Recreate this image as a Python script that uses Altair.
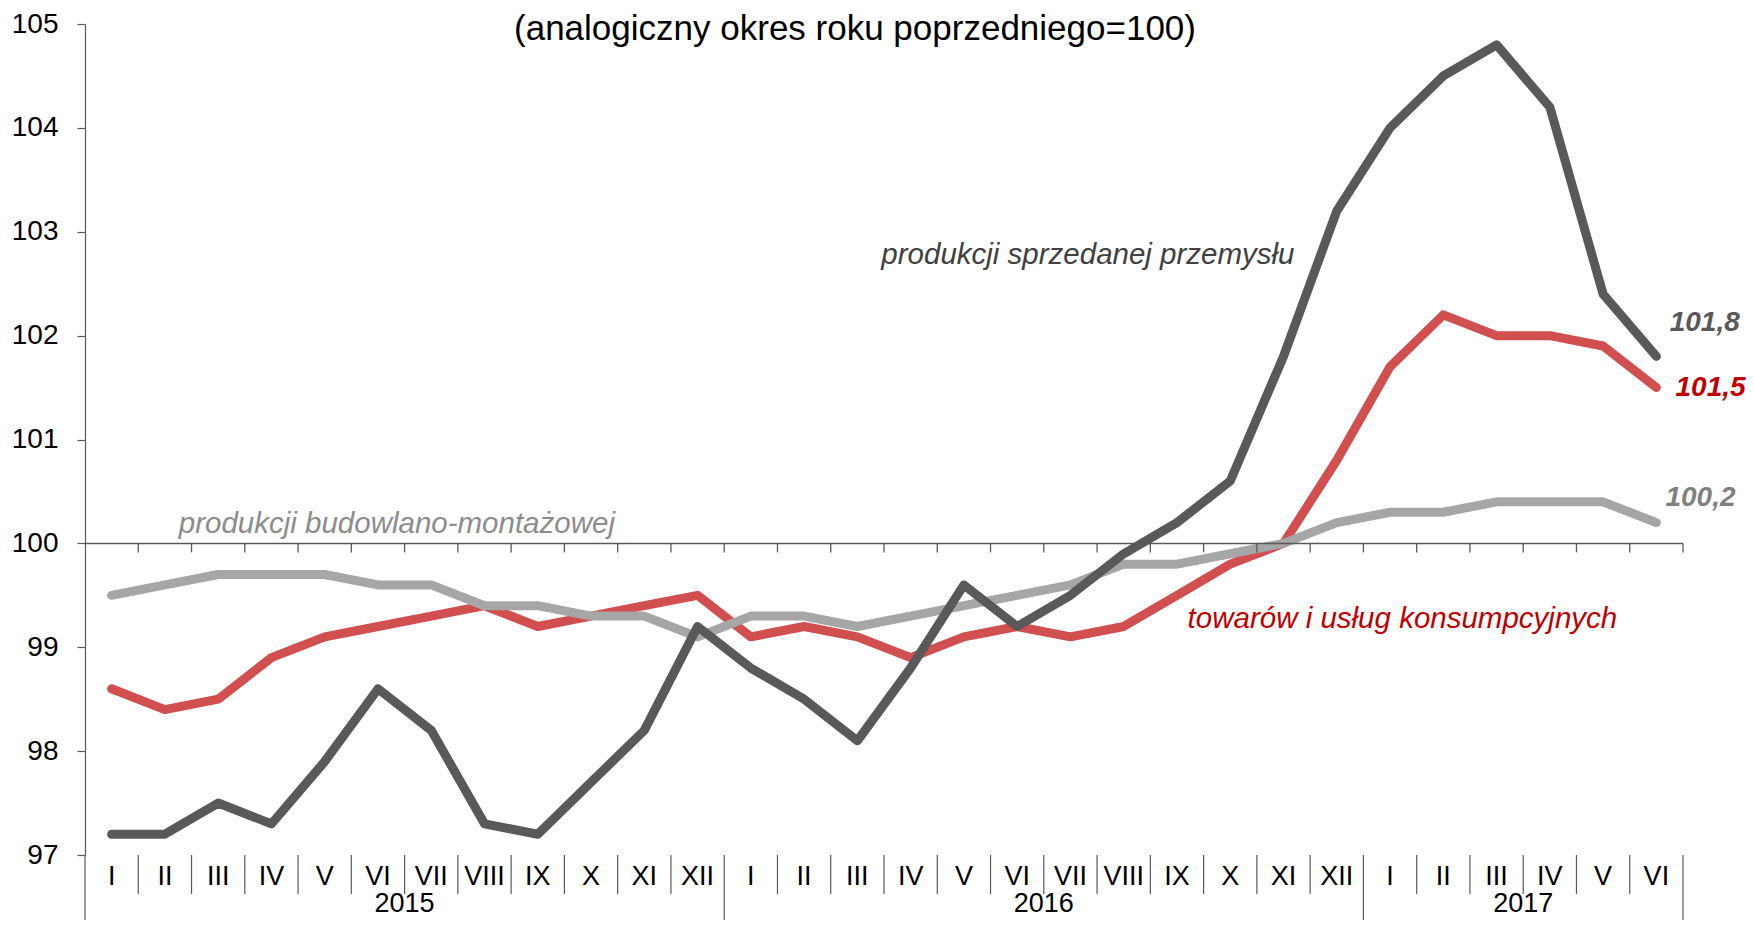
import altair as alt
import pandas as pd

# ---------------- data ----------------
months = ["I", "II", "III", "IV", "V", "VI", "VII", "VIII", "IX", "X", "XI", "XII",
          "I", "II", "III", "IV", "V", "VI", "VII", "VIII", "IX", "X", "XI", "XII",
          "I", "II", "III", "IV", "V", "VI"]
years = ["2015", "2016", "2017"]
months_per_year = [12, 12, 6]

industry = [97.2, 97.2, 97.5, 97.3, 97.9, 98.6, 98.2, 97.3, 97.2, 97.7, 98.2, 99.2,
            98.8, 98.5, 98.1, 98.8, 99.6, 99.2, 99.5, 99.9, 100.2, 100.6, 101.8, 103.2,
            104.0, 104.5, 104.8, 104.2, 102.4, 101.8]
consumer = [98.6, 98.4, 98.5, 98.9, 99.1, 99.2, 99.3, 99.4, 99.2, 99.3, 99.4, 99.5,
            99.1, 99.2, 99.1, 98.9, 99.1, 99.2, 99.1, 99.2, 99.5, 99.8, 100.0, 100.8,
            101.7, 102.2, 102.0, 102.0, 101.9, 101.5]
construction = [99.5, 99.6, 99.7, 99.7, 99.7, 99.6, 99.6, 99.4, 99.4, 99.3, 99.3, 99.1,
                99.3, 99.3, 99.2, 99.3, 99.4, 99.5, 99.6, 99.8, 99.8, 99.9, 100.0, 100.2,
                100.3, 100.3, 100.4, 100.4, 100.4, 100.2]

title_text = "(analogiczny okres roku poprzedniego=100)"
label_industry = "produkcji sprzedanej przemysłu"
label_construction = "produkcji budowlano-montażowej"
label_consumer = "towarów i usług konsumpcyjnych"
y_ticks = [97, 98, 99, 100, 101, 102, 103, 104, 105]
baseline_value = 100

# ---------------- layout / style ----------------
W, H = 1598, 831
FONT = "Liberation Sans"
C_IND = "#595959"
C_CON = "#d24f4f"
C_BUD = "#a6a6a6"
AXC = "#595959"

n = len(months)
x_scale = alt.Scale(domain=[0, n], nice=False, zero=False)
y_scale = alt.Scale(domain=[97, 105], nice=False, zero=False)
y_axis = alt.Axis(values=y_ticks, format="d", grid=False, domain=True,
                  domainColor=AXC, domainWidth=1.2, ticks=True, tickSize=8,
                  tickColor=AXC, tickWidth=1.2, labelFontSize=28, labelFont=FONT,
                  labelColor="#000000", labelPadding=19, title=None)

rows = []
for name, vals in [("consumer", consumer), ("construction", construction), ("industry", industry)]:
    for i, v in enumerate(vals):
        rows.append({"series": name, "pos": i + 0.5, "value": v})
df = pd.DataFrame(rows)

X = alt.X("pos:Q", scale=x_scale, axis=None)

def Y(field):
    return alt.Y(field, scale=y_scale, axis=y_axis)

def line_layer(name, color):
    return alt.Chart(df).transform_filter(alt.datum.series == name).mark_line(
        color=color, strokeWidth=9, strokeCap="round", strokeJoin="round"
    ).encode(x=X, y=Y("value:Q"))

# horizontal line at 100 with downward ticks
base_df = pd.DataFrame({"value": [baseline_value]})
hline = alt.Chart(base_df).mark_rule(color=AXC, strokeWidth=1.5).encode(
    y=Y("value:Q"), x=alt.value(0), x2=alt.value(W))
tick_df = pd.DataFrame({"pos": list(range(1, n + 1)), "value": [baseline_value] * n})
hticks = alt.Chart(tick_df).mark_tick(orient="vertical", size=9, thickness=1.3,
                                      color=AXC, yOffset=4.5, opacity=1).encode(
    x=X, y=Y("value:Q"))

# bottom category labels and separators
mdf = pd.DataFrame({"pos": [i + 0.5 for i in range(n)], "label": months})
mlabels = alt.Chart(mdf).mark_text(font=FONT, fontSize=27, color="#000000",
                                   baseline="middle", align="center").encode(
    x=X, y=alt.value(H + 22), text="label:N")

year_bounds = [0]
for k in months_per_year:
    year_bounds.append(year_bounds[-1] + k)
sep_df = pd.DataFrame({"pos": [b for b in range(1, n) if b not in year_bounds]})
seps = alt.Chart(sep_df).mark_rule(color=AXC, strokeWidth=1.2).encode(
    x=X, y=alt.value(H), y2=alt.value(H + 39))
ysep_df = pd.DataFrame({"pos": year_bounds})
yseps = alt.Chart(ysep_df).mark_rule(color=AXC, strokeWidth=1.2).encode(
    x=X, y=alt.value(H), y2=alt.value(H + 90))
ydf = pd.DataFrame({"pos": [(year_bounds[i] + year_bounds[i + 1]) / 2 for i in range(len(years))],
                    "label": years})
ylabels = alt.Chart(ydf).mark_text(font=FONT, fontSize=27, color="#000000",
                                   baseline="alphabetic", align="center").encode(
    x=X, y=alt.value(H + 57), text="label:N")

# title
tdf = pd.DataFrame({"t": [title_text]})
title = alt.Chart(tdf).mark_text(font=FONT, fontSize=35, color="#000000",
                                 baseline="alphabetic", align="center").encode(
    x=alt.value(770), y=alt.value(16), text="t:N")

# series annotations
ann_df = pd.DataFrame({
    "pos": [14.95, 1.76, 20.7],
    "value": [102.78, 100.19, 99.27],
    "label": [label_industry, label_construction, label_consumer],
    "color": ["#404040", "#8c8c8c", "#c00000"],
})
ann = alt.Chart(ann_df).mark_text(font=FONT, fontSize=29.5, fontStyle="italic",
                                  align="left", baseline="middle").encode(
    x=X, y=Y("value:Q"), text="label:N",
    color=alt.Color("color:N", scale=None))

# end-value labels
end_df = pd.DataFrame({
    "pos": [29.75, 29.86, 29.67],
    "value": [102.12, 101.50, 100.44],
    "label": ["101,8", "101,5", "100,2"],
    "color": ["#595959", "#c00000", "#808080"],
})
ends = alt.Chart(end_df).mark_text(font=FONT, fontSize=28, fontStyle="italic",
                                   fontWeight="bold", align="left", baseline="middle").encode(
    x=X, y=Y("value:Q"), text="label:N",
    color=alt.Color("color:N", scale=None))

chart = alt.layer(
    line_layer("consumer", C_CON),
    line_layer("construction", C_BUD),
    line_layer("industry", C_IND),
    hline, hticks, seps, yseps, mlabels, ylabels, title, ann, ends,
).properties(
    width=W, height=H,
    autosize=alt.AutoSizeParams(type="none"),
    padding={"left": 77, "top": 16, "right": 63, "bottom": 65},
    background="white",
).configure_view(stroke=None)

chart.save("out.html", embed_options={"renderer": "svg", "actions": False})
